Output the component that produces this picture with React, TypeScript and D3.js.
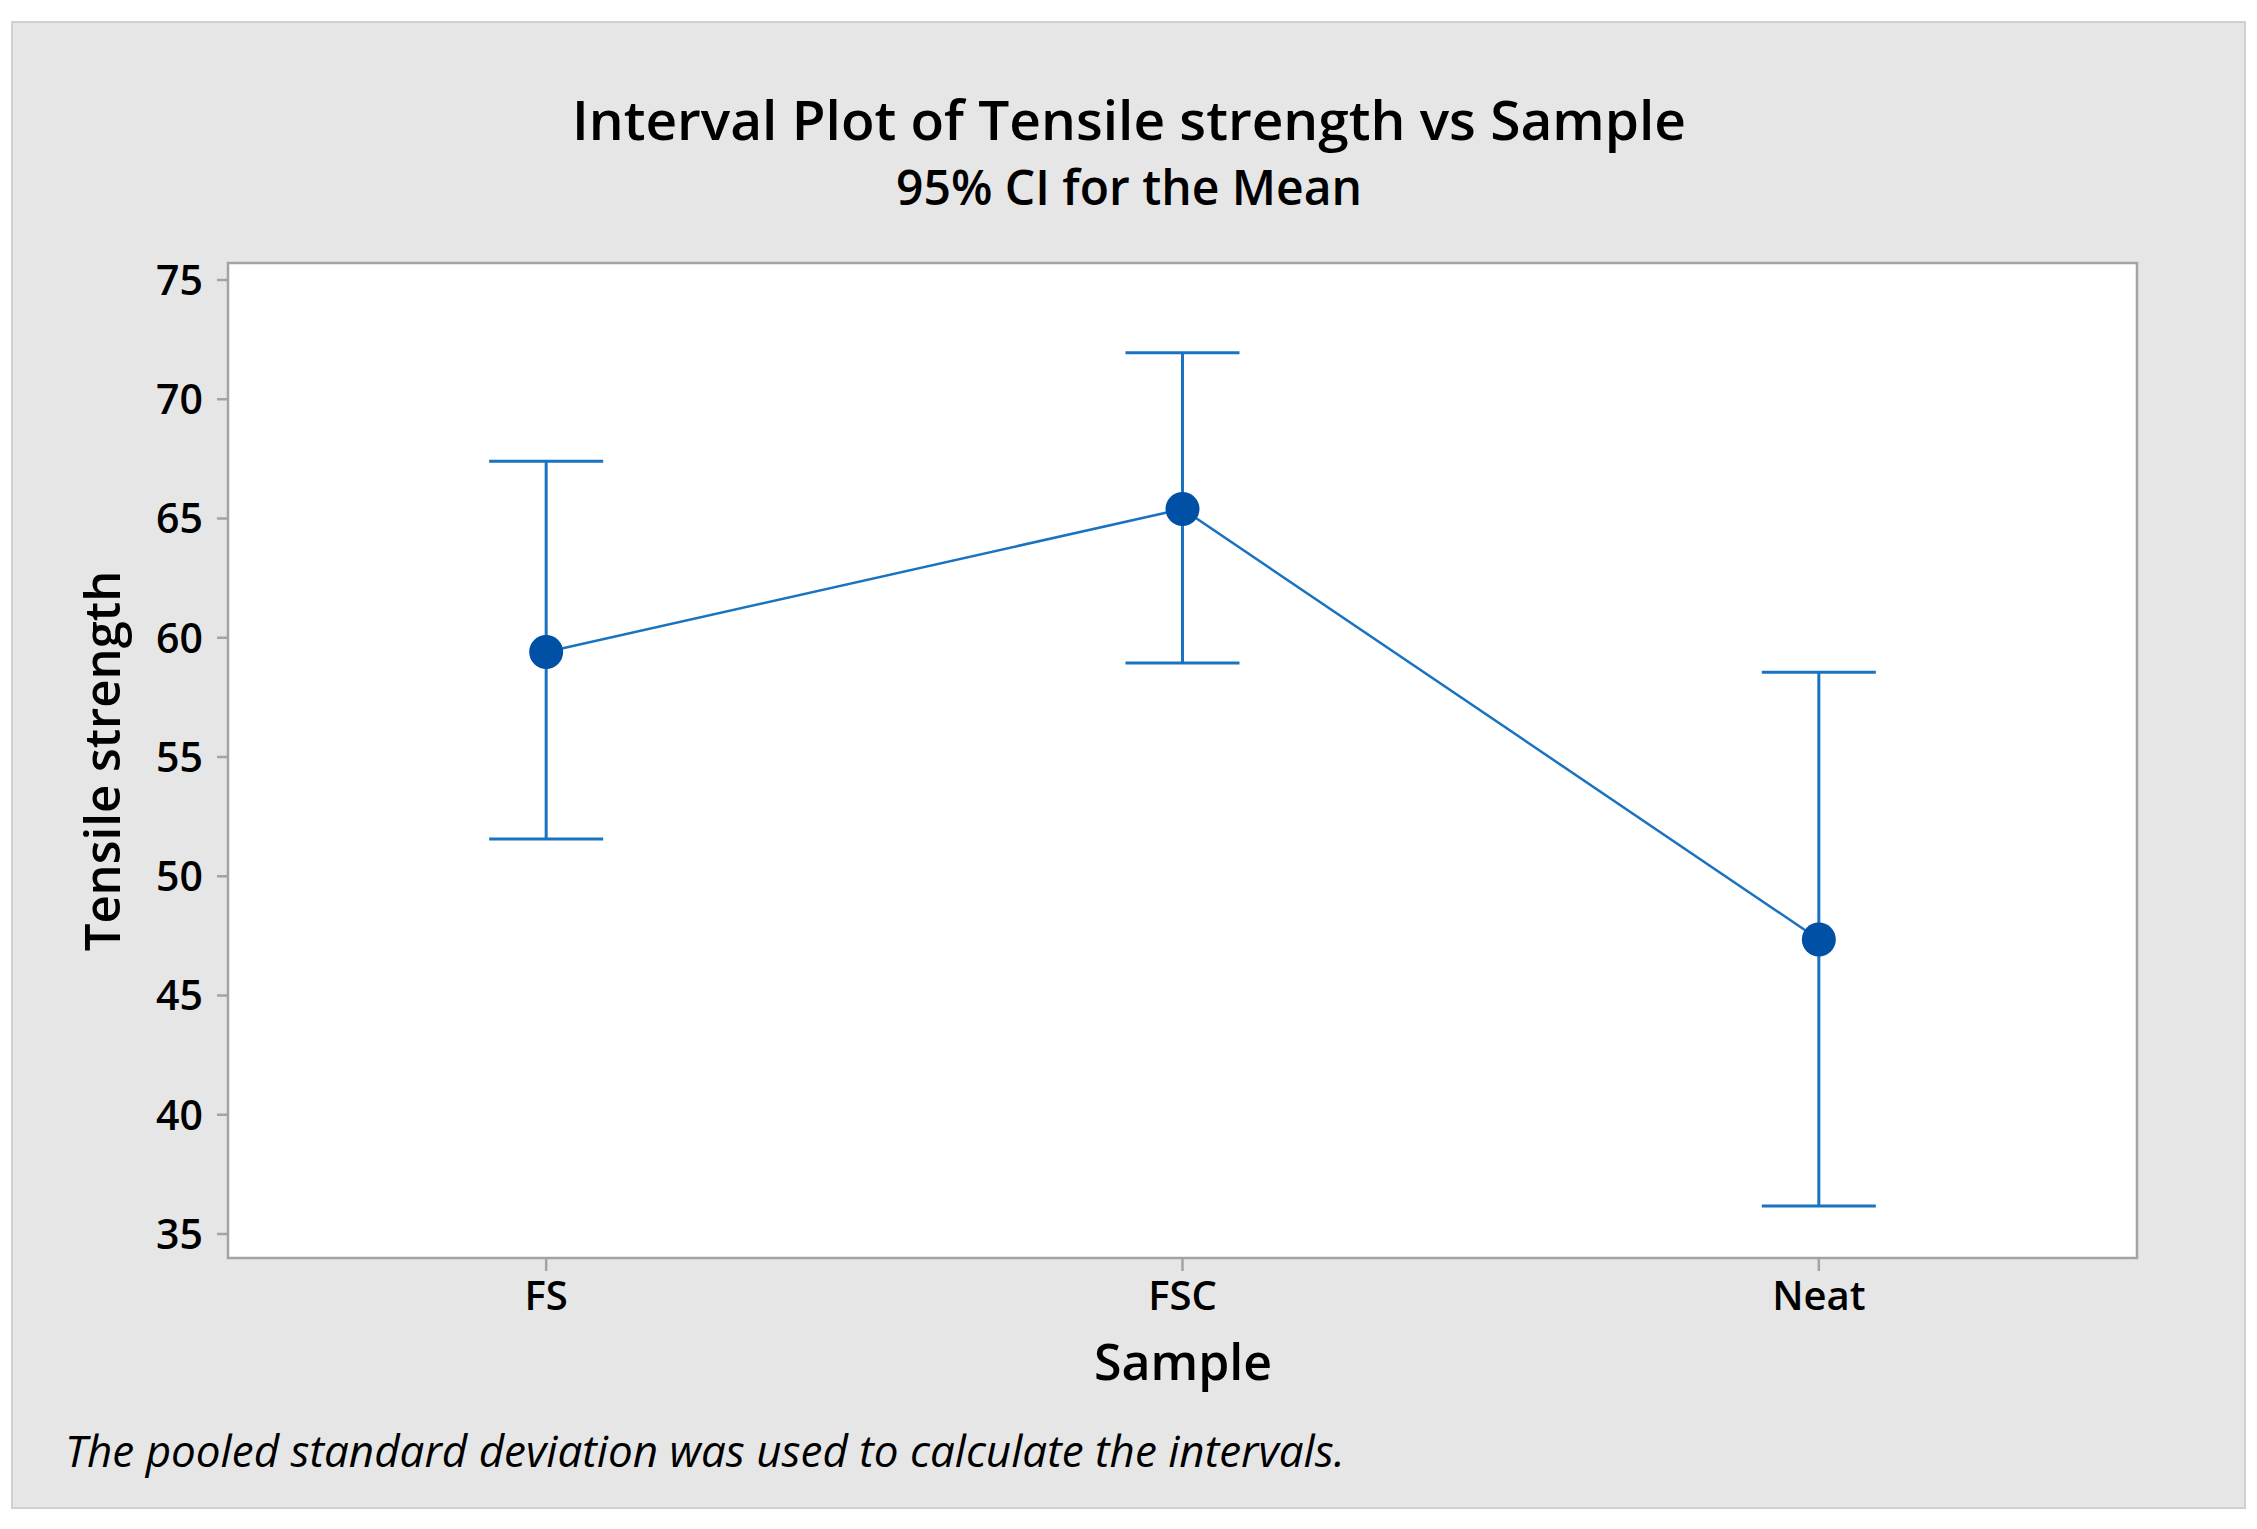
import React from "react";
import * as d3 from "d3";

const samples = ["FS", "FSC", "Neat"];
const means = [59.4, 65.4, 47.35];
const lowerCI = [51.56, 58.94, 36.17];
const upperCI = [67.4, 71.95, 58.55];
const yTicks = [35, 40, 45, 50, 55, 60, 65, 70, 75];

const W = 2257;
const H = 1529;
const plot = { left: 228, right: 2137, top: 263, bottom: 1258 };
const FONT = "'Open Sans', 'Noto Sans', sans-serif";
const BAR = "#1a73c0";
const DOT = "#0050a5";
const AXIS = "#a3a3a3";

export default function App() {
  const x = d3
    .scalePoint<string>()
    .domain(samples)
    .range([plot.left, plot.right])
    .padding(0.5);
  const y = d3.scaleLinear().domain([35, 75]).range([1234, 280]);

  const pts = samples.map((s, i) => ({ s, m: means[i], lo: lowerCI[i], hi: upperCI[i] }));
  const line = d3
    .line<{ s: string; m: number }>()
    .x((d) => x(d.s) as number)
    .y((d) => y(d.m));
  const capHalf = 57;

  return (
    <div style={{ position: "absolute", left: 0, top: 0 }}>
      <svg width={W} height={H} style={{ display: "block" }}>
        <rect x={0} y={0} width={W} height={H} fill="#ffffff" />
        <rect x={12} y={22} width={2233} height={1486} fill="#e6e6e6" stroke="#d0d0d0" strokeWidth={2} />
        <text x={1129} y={140} textAnchor="middle" fontFamily={FONT} fontWeight={600} fontSize={55} fill="#000">
          Interval Plot of Tensile strength vs Sample
        </text>
        <text x={1129} y={205} textAnchor="middle" fontFamily={FONT} fontWeight={600} fontSize={48} fill="#000">
          95% CI for the Mean
        </text>
        <rect
          x={plot.left}
          y={plot.top}
          width={plot.right - plot.left}
          height={plot.bottom - plot.top}
          fill="#ffffff"
          stroke={AXIS}
          strokeWidth={2.5}
        />
        {yTicks.map((t) => (
          <g key={t}>
            <line x1={plot.left - 11} x2={plot.left} y1={y(t)} y2={y(t)} stroke={AXIS} strokeWidth={2.5} />
            <text
              x={203}
              y={y(t)}
              dy="0.36em"
              textAnchor="end"
              fontFamily={FONT}
              fontWeight={600}
              fontSize={41}
              fill="#000"
            >
              {t}
            </text>
          </g>
        ))}
        {samples.map((s) => (
          <g key={s}>
            <line x1={x(s)} x2={x(s)} y1={plot.bottom} y2={plot.bottom + 13} stroke={AXIS} strokeWidth={2.5} />
            <text x={x(s)} y={1310} textAnchor="middle" fontFamily={FONT} fontWeight={600} fontSize={40} fill="#000">
              {s}
            </text>
          </g>
        ))}
        <text
          transform={`translate(120, 761) rotate(-90)`}
          textAnchor="middle"
          fontFamily={FONT}
          fontWeight={600}
          fontSize={49}
          fill="#000"
        >
          Tensile strength
        </text>
        <text x={1183} y={1380} textAnchor="middle" fontFamily={FONT} fontWeight={600} fontSize={50} fill="#000">
          Sample
        </text>
        <text x={65} y={1467} fontFamily={FONT} fontStyle="italic" fontSize={44} fill="#000">
          The pooled standard deviation was used to calculate the intervals.
        </text>
        {pts.map((d) => {
          const cx = x(d.s) as number;
          return (
            <g key={d.s}>
              <line x1={cx} x2={cx} y1={y(d.lo)} y2={y(d.hi)} stroke={BAR} strokeWidth={3} />
              <line x1={cx - capHalf} x2={cx + capHalf} y1={y(d.hi)} y2={y(d.hi)} stroke={BAR} strokeWidth={3} />
              <line x1={cx - capHalf} x2={cx + capHalf} y1={y(d.lo)} y2={y(d.lo)} stroke={BAR} strokeWidth={3} />
            </g>
          );
        })}
        <path d={line(pts) || ""} fill="none" stroke={BAR} strokeWidth={2.5} />
        {pts.map((d) => (
          <circle key={d.s} cx={x(d.s) as number} cy={y(d.m)} r={17} fill={DOT} />
        ))}
      </svg>
    </div>
  );
}
